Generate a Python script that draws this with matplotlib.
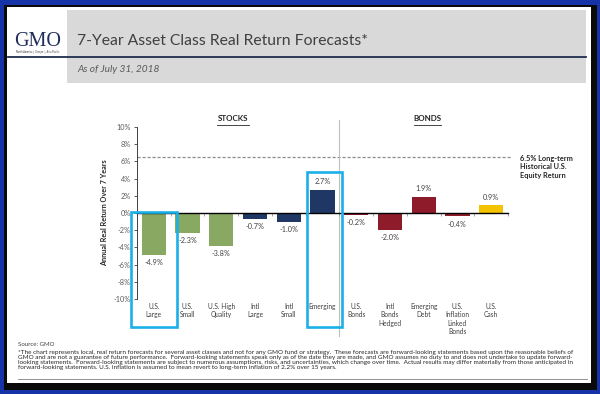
import matplotlib
matplotlib.use("Agg")
import matplotlib.pyplot as plt
from matplotlib.patches import Rectangle

plt.rcParams['font.family'] = ['Lato', 'DejaVu Sans']

# data
categories = ["U.S.\nLarge", "U.S.\nSmall", "U.S. High\nQuality", "Intl\nLarge", "Intl\nSmall",
              "Emerging", "U.S.\nBonds", "Intl\nBonds\nHedged", "Emerging\nDebt",
              "U.S.\nInflation\nLinked\nBonds", "U.S.\nCash"]
returns = [-4.9, -2.3, -3.8, -0.7, -1.0, 2.7, -0.2, -2.0, 1.9, -0.4, 0.9]
groups = ["us_stock", "us_stock", "us_stock", "intl_stock", "intl_stock", "intl_stock",
          "bond", "bond", "bond", "bond", "cash"]
highlighted = ["U.S.\nLarge", "Emerging"]
hist_equity = 6.5
yticks = [-10, -8, -6, -4, -2, 0, 2, 4, 6, 8, 10]

colors = {"us_stock": "#89a862", "intl_stock": "#1f3764", "bond": "#8e1b2a", "cash": "#f4c300"}

W, H = 600, 394
fig = plt.figure(figsize=(6, 3.94), dpi=100, facecolor="#1634a8")


def fx(x):
    return x / W


def fy(y):
    return 1 - y / H


def box(x0, y0, x1, y1, color, z=0):
    r = Rectangle((fx(x0), fy(y1)), fx(x1 - x0), (y1 - y0) / H, transform=fig.transFigure,
                  facecolor=color, edgecolor="none", zorder=z)
    fig.patches.append(r)


# frame
box(4, 5, 597, 390, "#0a0a0a", 0)
box(7, 7, 591, 383, "white", 1)
# header band
box(67, 10, 586, 83, "#d9d9d9", 2)
fig.add_artist(plt.Line2D([fx(8), fx(586)], [fy(57), fy(57)], color="#1f2d4d", lw=1.3, zorder=3))

fig.text(fx(38), fy(41), "GMO", family="Liberation Serif", fontsize=14.5, color="#1f2d5a",
         ha="center", va="center", zorder=4)
fig.text(fx(38), fy(52), "North America  |  Europe  |  Asia Pacific", fontsize=1.8, color="#333333",
         ha="center", va="center", zorder=4)
fig.text(fx(77), fy(41), "7-Year Asset Class Real Return Forecasts*", fontsize=11.3, color="#404040",
         ha="left", va="center", zorder=4)
fig.text(fx(77), fy(70), "As of July 31, 2018", fontsize=7.3, style="italic", color="#595959",
         ha="left", va="center", zorder=4)

# chart
ax = fig.add_axes([fx(137), fy(299), (508 - 137) / W, (299 - 127) / H])
ax.set_zorder(5)
ax.patch.set_alpha(0)
x = list(range(len(categories)))
ax.bar(x, returns, width=0.72, color=[colors[g] for g in groups], zorder=2)
ax.set_xlim(-0.5, len(categories) - 0.5)
ax.set_ylim(-10, 10)
ax.set_yticks(yticks)
ax.set_yticklabels([f"{t}%" for t in yticks])
ax.tick_params(axis="y", labelsize=5.2, labelcolor="#595959", length=2.5, width=0.6, color="#404040", pad=2)
ax.set_xticks([i - 0.5 for i in range(len(categories) + 1)])
ax.set_xticklabels([])
ax.tick_params(axis="x", length=2, width=0.5, color="#808080", direction="out")
for s in ["top", "right"]:
    ax.spines[s].set_visible(False)
ax.spines["bottom"].set_position(("data", 0))
ax.spines["bottom"].set_color("black")
ax.spines["bottom"].set_linewidth(1.0)
ax.spines["bottom"].set_zorder(3)
ax.spines["left"].set_color("#404040")
ax.spines["left"].set_linewidth(0.7)

ax.set_ylabel("Annual Real Return Over 7 Years", fontsize=5.2, fontweight="bold", color="#262626", labelpad=4)

for xi, v in zip(x, returns):
    if v >= 0:
        ax.text(xi, v + 0.5, f"{v:.1f}%", ha="center", va="bottom", fontsize=5.2, color="#404040")
    else:
        ax.text(xi, v - 0.5, f"{v:.1f}%", ha="center", va="top", fontsize=5.2, color="#404040")

for xi, lab in zip(x, categories):
    ax.text(xi, -10.45, lab, ha="center", va="top", fontsize=4.8, color="#404040", linespacing=1.25)

# long-term equity return reference
ax.plot([-0.5, 10.62], [hist_equity, hist_equity], ls=(0, (2.5, 1.5)), color="#8c8c8c", lw=0.9, clip_on=False, zorder=1)
ax.text(10.85, hist_equity + 0.3, f"{hist_equity}% Long-term\nHistorical U.S.\nEquity Return", ha="left", va="top",
        fontsize=5.3, fontweight="bold", color="#262626", linespacing=1.25)

# stocks / bonds divider and headings
ax.plot([5.5, 5.5], [10.8, -14.3], color="#bfbfbf", lw=0.8, clip_on=False, zorder=1)
ax.text(2.35, 10.95, "STOCKS", ha="center", va="center", fontsize=5.8, fontweight="bold", color="#262626")
ax.text(8.1, 10.95, "BONDS", ha="center", va="center", fontsize=5.8, fontweight="bold", color="#262626")
ax.plot([1.88, 2.82], [10.25, 10.25], color="#262626", lw=0.6, clip_on=False)
ax.plot([7.7, 8.5], [10.25, 10.25], color="#262626", lw=0.6, clip_on=False)

# highlight boxes (left / right padding around each highlighted bar)
pads = {"U.S.\nLarge": (0.68, 0.69), "Emerging": (0.46, 0.58)}
for lab in highlighted:
    i = categories.index(lab)
    v = returns[i]
    top = v + 2.05 if v > 0 else 0.12
    lp, rp = pads[lab]
    ax.add_patch(Rectangle((i - lp, -13.2), lp + rp, top + 13.2, fill=False,
                           edgecolor="#1ab0e8", lw=1.9, clip_on=False, zorder=4))

# footer
fig.text(fx(18), fy(344), "Source: GMO", fontsize=4.4, color="#404040", va="center", zorder=4)
notes = ("*The chart represents local, real return forecasts for several asset classes and not for any GMO fund or strategy.  These forecasts are forward-looking statements based upon the reasonable beliefs of\n"
         "GMO and are not a guarantee of future performance.  Forward-looking statements speak only as of the date they are made, and GMO assumes no duty to and does not undertake to update forward-\n"
         "looking statements.  Forward-looking statements are subject to numerous assumptions, risks, and uncertainties, which change over time.  Actual results may differ materially from those anticipated in\n"
         "forward-looking statements. U.S. inflation is assumed to mean revert to long-term inflation of 2.2% over 15 years.")
fig.text(fx(18), fy(350), notes, fontsize=4.6, color="#262626", va="top", linespacing=1.0, zorder=4)
fig.add_artist(plt.Line2D([fx(18), fx(587)], [fy(379), fy(379)], color="#7f7f7f", lw=0.6, zorder=4))

fig.savefig("out.png", dpi=100, facecolor=fig.get_facecolor())
